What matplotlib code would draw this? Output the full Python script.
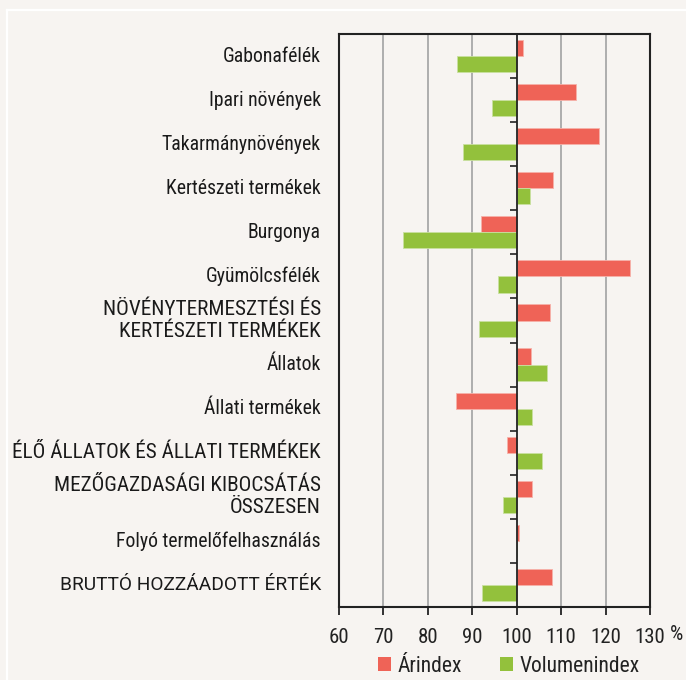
import matplotlib
matplotlib.use("Agg")
from matplotlib import pyplot as plt
from matplotlib.lines import Line2D
from matplotlib.patches import Patch
import matplotlib.transforms as mtransforms
import numpy as np

plt.rcParams['font.family'] = ['Roboto Condensed', 'DejaVu Sans']

# data (index, previous year = 100)
categories = [
    "Gabonafélék",
    "Ipari növények",
    "Takarmánynövények",
    "Kertészeti termékek",
    "Burgonya",
    "Gyümölcsfélék",
    "NÖVÉNYTERMESZTÉSI ÉS\nKERTÉSZETI TERMÉKEK",
    "Állatok",
    "Állati termékek",
    "ÉLŐ ÁLLATOK ÉS ÁLLATI TERMÉKEK",
    "MEZŐGAZDASÁGI KIBOCSÁTÁS\nÖSSZESEN",
    "Folyó termelőfelhasználás",
    "BRUTTÓ HOZZÁADOTT ÉRTÉK",
]
arindex = [101.5, 113.3, 118.6, 108.1, 92.0, 125.5, 107.4, 103.2, 86.4, 97.8, 103.5, 100.5, 108.0]
volumenindex = [86.6, 94.4, 87.8, 102.9, 74.5, 95.7, 91.4, 106.8, 103.5, 105.7, 97.0, 100.0, 92.2]
xticks = [60, 70, 80, 90, 100, 110, 120, 130]
legend_labels = ["Árindex", "Volumenindex"]

BG = "#f7f4f1"
RED = "#ef6357"
GREEN = "#93c13c"
BASE = 100

fig = plt.figure(figsize=(6.86, 6.80), dpi=100, facecolor=BG)
ax = fig.add_axes([339 / 686, 1 - 607 / 680, 311 / 686, 573 / 680])
ax.set_facecolor(BG)

y = np.arange(len(categories))
h = 0.365
ax.barh(y - h / 2, np.array(arindex) - BASE, left=BASE, height=h,
        color=RED, edgecolor="#f6b1a9", linewidth=0.6, zorder=3)
ax.barh(y + h / 2, np.array(volumenindex) - BASE, left=BASE, height=h,
        color=GREEN, edgecolor="#c9e0a0", linewidth=0.6, zorder=3)

ax.set_xlim(60, 130)
ax.set_ylim(len(categories) - 0.5, -0.5)

# vertical grid
for xv in xticks[1:-1]:
    if xv != BASE:
        ax.axvline(xv, color="#a8a8a8", lw=1.3, zorder=1)

# left spine acts as the 100 line, with ticks between categories
ax.spines['left'].set_position(('data', BASE))
ax.spines['left'].set_linewidth(1.3)
ax.spines['left'].set_color("#222222")
ax.spines['left'].set_zorder(4)
ax.set_yticks(np.arange(-0.5, len(categories), 1.0))
ax.set_yticklabels([])
ax.tick_params(axis='y', direction='out', length=5, width=1.3, color="#333333")

for s in ['top', 'right', 'bottom']:
    ax.spines[s].set_linewidth(1.5)
    ax.spines[s].set_color("#222222")
ax.axvline(60, color="#222222", lw=1.5, clip_on=False, zorder=4)

ax.set_xticks(xticks)
ax.set_xticklabels([str(v) for v in xticks], fontsize=15, color="#222222")
ax.tick_params(axis='x', direction='out', length=6, width=1.3, color="#222222", pad=9)

# category labels on the left (upper-case totals are set larger)
trans = mtransforms.blended_transform_factory(ax.transAxes, ax.transData)
for i, lab in enumerate(categories):
    fam, size = None, 14.2
    if lab.startswith("BRUTT"):
        fam, size = ['Roboto', 'DejaVu Sans'], 13.8
    elif lab.split("\n")[0].isupper():
        size = 15.3
    ax.text(-0.058, i, lab, transform=trans, ha='right', va='center',
            fontsize=size, color="#1a1a1a", linespacing=1.2, family=fam)

fig.text(670 / 686, 1 - 634 / 680, "%", fontsize=15, color="#222222",
         ha='left', va='center')

handles = [Patch(facecolor=RED, edgecolor='none'), Patch(facecolor=GREEN, edgecolor='none')]
fig.legend(handles, legend_labels, loc='center', bbox_to_anchor=(509 / 686, 1 - 666 / 680),
           ncol=2, frameon=False, fontsize=15.5, handlelength=0.6, handleheight=0.6,
           handletextpad=0.3, columnspacing=1.8, labelcolor="#222222")

# thin white frame around the panel
fig.add_artist(Line2D([7 / 686, 7 / 686], [1 - 10 / 680, 0], color="white", lw=1.6))
fig.add_artist(Line2D([7 / 686, 1], [1 - 10 / 680, 1 - 10 / 680], color="white", lw=1.6))

fig.savefig("out.png", dpi=100, facecolor=BG)
